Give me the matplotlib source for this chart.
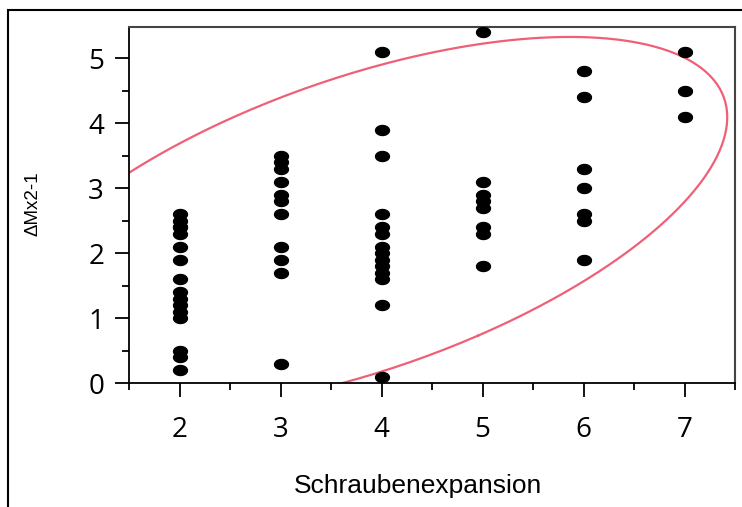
import numpy as np
import matplotlib
matplotlib.use("Agg")
import matplotlib.pyplot as plt
from matplotlib.patches import Rectangle
from matplotlib.path import Path
from matplotlib.ticker import MultipleLocator

# screw expansion grade vs. delta Mx2-1, one list of y values per grade
grades = [2, 3, 4, 5, 6, 7]
delta_g2 = [2.6, 2.5, 2.4, 2.4, 2.3, 2.1, 1.9, 1.6, 1.4, 1.3, 1.2, 1.1, 1.0, 0.5, 0.4, 0.2]
delta_g3 = [3.5, 3.4, 3.3, 3.1, 2.9, 2.8, 2.6, 2.1, 1.9, 1.7, 0.3]
delta_g4 = [5.1, 3.9, 3.5, 2.6, 2.4, 2.3, 2.1, 2.0, 1.9, 1.8, 1.7, 1.6, 1.2, 0.1]
delta_g5 = [5.4, 3.1, 2.9, 2.8, 2.7, 2.4, 2.3, 1.8]
delta_g6 = [4.8, 4.4, 3.3, 3.0, 2.6, 2.5, 1.9]
delta_g7 = [5.1, 4.5, 4.1]
ellipse_level = 0.94

groups = [delta_g2, delta_g3, delta_g4, delta_g5, delta_g6, delta_g7]
x = np.concatenate([[g] * len(vals) for g, vals in zip(grades, groups)]).astype(float)
y = np.concatenate(groups).astype(float)

# bivariate normal density ellipse
mean = np.array([x.mean(), y.mean()])
cov = np.cov(x, y)
k = np.sqrt(-2 * np.log(1 - ellipse_level))
evals, evecs = np.linalg.eigh(cov)
t = np.linspace(0, 2 * np.pi, 400)
circle = np.vstack([np.cos(t), np.sin(t)])
ell = (evecs @ (np.sqrt(evals)[:, None] * circle)) * k + mean[:, None]

# slightly flattened dot
th = np.linspace(0, 2 * np.pi, 40)
dot = Path(np.column_stack([np.cos(th), 0.72 * np.sin(th)]), closed=True)

fig = plt.figure(figsize=(7.42, 5.07), dpi=100)
ax = fig.add_axes([129 / 742, 124 / 507, 606 / 742, 356 / 507])

ax.plot(ell[0], ell[1], color="#ef6078", lw=1.6, zorder=2)
ax.plot(x, y, linestyle="none", marker=dot, markersize=10, color="black", zorder=3)

ax.set_xlim(1.5, 7.5)
ax.set_ylim(0, 5.48)
ax.xaxis.set_major_locator(MultipleLocator(1))
ax.xaxis.set_minor_locator(MultipleLocator(0.5))
ax.yaxis.set_major_locator(MultipleLocator(1))
ax.yaxis.set_minor_locator(MultipleLocator(0.5))
ax.tick_params(which="major", length=10, width=1.3, color="black", direction="out")
ax.tick_params(which="minor", length=5, width=1.3, color="black", direction="out")
ax.tick_params(axis="x", which="major", pad=14)
ax.tick_params(axis="y", which="major", pad=8)
for lab in ax.get_xticklabels() + ax.get_yticklabels():
    lab.set_fontfamily("Open Sans")
    lab.set_fontsize(20)

for side in ("left", "bottom"):
    ax.spines[side].set_color("black")
    ax.spines[side].set_linewidth(1.3)
for side in ("top", "right"):
    ax.spines[side].set_color("#444444")
    ax.spines[side].set_linewidth(1.5)

ax.set_xlabel("Schraubenexpansion", fontsize=19, family="Liberation Sans")
ax.xaxis.set_label_coords(0.477, -0.255)
ax.set_ylabel("ΔMx2-1", fontsize=13.5, family="Liberation Sans")
ax.yaxis.set_label_coords(-0.144, 0.503)

# outer frame of the report panel
fig.add_artist(Rectangle((8 / 742, -0.2), 1.2, 0.2 + 497 / 507, transform=fig.transFigure,
                         fill=False, edgecolor="black", lw=1.5, clip_on=False))

fig.savefig("out.png", dpi=100)
